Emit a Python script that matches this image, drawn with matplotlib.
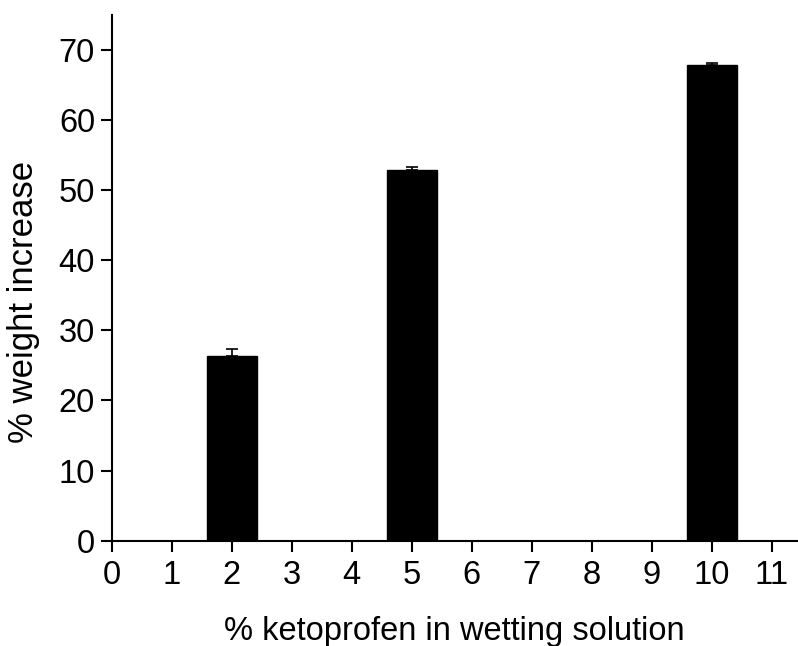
import matplotlib

matplotlib.use("Agg")
import matplotlib.pyplot as plt
import numpy as np

plt.rcParams["font.family"] = ["Liberation Sans", "DejaVu Sans"]

# ketoprofen concentration (%) and resulting weight increase (%)
concentration = [2, 5, 10]
weight_increase = [26.3, 52.9, 67.9]
sem = [1.05, 0.4, 0.3]

x_ticks = list(range(0, 12))
y_ticks = [0, 10, 20, 30, 40, 50, 60, 70]

fig = plt.figure(figsize=(7.98, 6.46), dpi=100)
ax = fig.add_axes([0.14, 0.163, 0.859, 0.814])

ax.bar(concentration, weight_increase, width=0.83, color="black", edgecolor="black",
       yerr=[np.zeros(len(sem)), sem], capsize=4,
       error_kw={"elinewidth": 1.2, "capthick": 1.2, "ecolor": "black"})

ax.set_xlim(0, 11.42)
ax.set_ylim(0, 75)
ax.set_xticks(x_ticks)
ax.set_yticks(y_ticks)
ax.spines["top"].set_visible(False)
ax.spines["right"].set_visible(False)
for s in ("left", "bottom"):
    ax.spines[s].set_linewidth(1.5)
ax.tick_params(direction="out", length=8, width=1.5, labelsize=23.5)
ax.tick_params(axis="x", pad=6)
ax.tick_params(axis="y", pad=4)

ax.set_xlabel("% ketoprofen in wetting solution", fontsize=23.5, labelpad=18)
ax.set_ylabel("% weight increase", fontsize=25)
ax.yaxis.set_label_coords(-0.105, 0.454)

fig.savefig("out.png", dpi=100)
